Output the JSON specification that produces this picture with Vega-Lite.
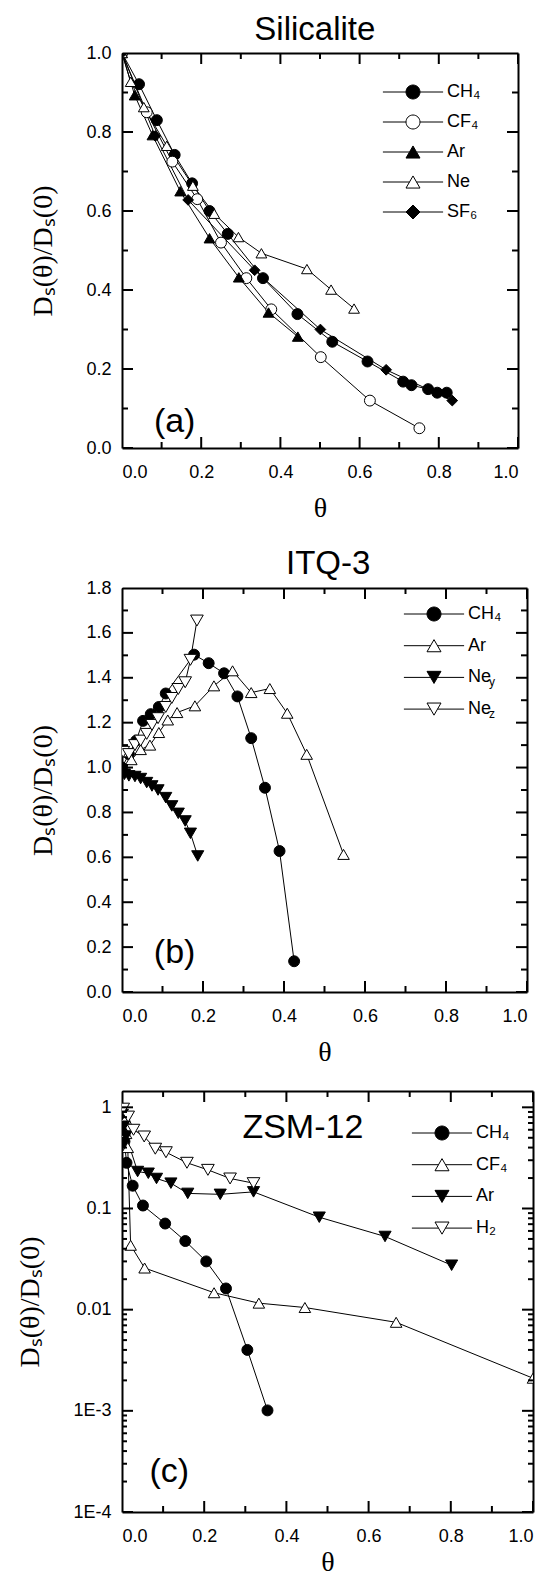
{
  "$schema": "https://vega.github.io/schema/vega-lite/v6.json",
  "background": "white",
  "padding": {"left": 16, "top": 14, "right": 5, "bottom": 0},
  "spacing": 25,
  "config": {
    "view": {"stroke": null},
    "axis": {"domainColor": "black", "domainWidth": 2, "ticks": false, "grid": false, "labelColor": "black", "labelFont": "Liberation Sans", "labelFontSize": 18, "titleColor": "black", "titleFont": "Liberation Serif", "titleFontSize": 28, "titleFontWeight": "normal"},
    "legend": {"labelFont": "Liberation Sans", "labelFontSize": 18, "labelColor": "black", "padding": 0},
    "text": {"font": "Liberation Sans", "color": "black"},
    "tick": {"color": "black", "thickness": 2, "opacity": 1}
  },
  "datasets": {
    "tx": [
      {"p": 0.0, "m": 1}, {"p": 0.1, "m": 0}, {"p": 0.2, "m": 1}, {"p": 0.3, "m": 0}, {"p": 0.4, "m": 1}, {"p": 0.5, "m": 0}, {"p": 0.6, "m": 1}, {"p": 0.7, "m": 0}, {"p": 0.8, "m": 1}, {"p": 0.9, "m": 0}, {"p": 1.0, "m": 1}
    ],
    "tyb": [
      {"p": 0.0, "m": 1}, {"p": 0.1, "m": 0}, {"p": 0.2, "m": 1}, {"p": 0.3, "m": 0}, {"p": 0.4, "m": 1}, {"p": 0.5, "m": 0}, {"p": 0.6, "m": 1}, {"p": 0.7, "m": 0}, {"p": 0.8, "m": 1}, {"p": 0.9, "m": 0}, {"p": 1.0, "m": 1}, {"p": 1.1, "m": 0}, {"p": 1.2, "m": 1}, {"p": 1.3, "m": 0}, {"p": 1.4, "m": 1}, {"p": 1.5, "m": 0}, {"p": 1.6, "m": 1}, {"p": 1.7, "m": 0}, {"p": 1.8, "m": 1}
    ],
    "tyc": [
      {"p": 0.0001, "m": 1}, {"p": 0.0002, "m": 0}, {"p": 0.0003, "m": 0}, {"p": 0.0004, "m": 0}, {"p": 0.0005, "m": 0}, {"p": 0.0006, "m": 0}, {"p": 0.0007, "m": 0}, {"p": 0.0008, "m": 0}, {"p": 0.0009, "m": 0},
      {"p": 0.001, "m": 1}, {"p": 0.002, "m": 0}, {"p": 0.003, "m": 0}, {"p": 0.004, "m": 0}, {"p": 0.005, "m": 0}, {"p": 0.006, "m": 0}, {"p": 0.007, "m": 0}, {"p": 0.008, "m": 0}, {"p": 0.009, "m": 0},
      {"p": 0.01, "m": 1}, {"p": 0.02, "m": 0}, {"p": 0.03, "m": 0}, {"p": 0.04, "m": 0}, {"p": 0.05, "m": 0}, {"p": 0.06, "m": 0}, {"p": 0.07, "m": 0}, {"p": 0.08, "m": 0}, {"p": 0.09, "m": 0},
      {"p": 0.1, "m": 1}, {"p": 0.2, "m": 0}, {"p": 0.3, "m": 0}, {"p": 0.4, "m": 0}, {"p": 0.5, "m": 0}, {"p": 0.6, "m": 0}, {"p": 0.7, "m": 0}, {"p": 0.8, "m": 0}, {"p": 0.9, "m": 0},
      {"p": 1.0, "m": 1}
    ],
    "a": [
      {"s": "CH4", "t": 0.0, "v": 1.0}, {"s": "CH4", "t": 0.043, "v": 0.921}, {"s": "CH4", "t": 0.088, "v": 0.83}, {"s": "CH4", "t": 0.133, "v": 0.742}, {"s": "CH4", "t": 0.177, "v": 0.67}, {"s": "CH4", "t": 0.221, "v": 0.6}, {"s": "CH4", "t": 0.267, "v": 0.542}, {"s": "CH4", "t": 0.356, "v": 0.43}, {"s": "CH4", "t": 0.443, "v": 0.339}, {"s": "CH4", "t": 0.531, "v": 0.269}, {"s": "CH4", "t": 0.62, "v": 0.219}, {"s": "CH4", "t": 0.71, "v": 0.168}, {"s": "CH4", "t": 0.731, "v": 0.159}, {"s": "CH4", "t": 0.773, "v": 0.149}, {"s": "CH4", "t": 0.796, "v": 0.14}, {"s": "CH4", "t": 0.82, "v": 0.14},
      {"s": "CF4", "t": 0.0, "v": 1.0}, {"s": "CF4", "t": 0.0625, "v": 0.85}, {"s": "CF4", "t": 0.127, "v": 0.725}, {"s": "CF4", "t": 0.19, "v": 0.63}, {"s": "CF4", "t": 0.25, "v": 0.52}, {"s": "CF4", "t": 0.314, "v": 0.43}, {"s": "CF4", "t": 0.377, "v": 0.351}, {"s": "CF4", "t": 0.502, "v": 0.23}, {"s": "CF4", "t": 0.626, "v": 0.12}, {"s": "CF4", "t": 0.751, "v": 0.05},
      {"s": "Ar", "t": 0.0, "v": 1.0}, {"s": "Ar", "t": 0.032, "v": 0.893}, {"s": "Ar", "t": 0.077, "v": 0.792}, {"s": "Ar", "t": 0.147, "v": 0.65}, {"s": "Ar", "t": 0.221, "v": 0.531}, {"s": "Ar", "t": 0.295, "v": 0.432}, {"s": "Ar", "t": 0.37, "v": 0.343}, {"s": "Ar", "t": 0.444, "v": 0.282},
      {"s": "Ne", "t": 0.0, "v": 1.0}, {"s": "Ne", "t": 0.022, "v": 0.927}, {"s": "Ne", "t": 0.055, "v": 0.863}, {"s": "Ne", "t": 0.113, "v": 0.765}, {"s": "Ne", "t": 0.179, "v": 0.664}, {"s": "Ne", "t": 0.233, "v": 0.593}, {"s": "Ne", "t": 0.294, "v": 0.534}, {"s": "Ne", "t": 0.352, "v": 0.493}, {"s": "Ne", "t": 0.467, "v": 0.453}, {"s": "Ne", "t": 0.528, "v": 0.401}, {"s": "Ne", "t": 0.586, "v": 0.353},
      {"s": "SF6", "t": 0.0, "v": 1.0}, {"s": "SF6", "t": 0.084, "v": 0.79}, {"s": "SF6", "t": 0.167, "v": 0.628}, {"s": "SF6", "t": 0.335, "v": 0.45}, {"s": "SF6", "t": 0.501, "v": 0.3}, {"s": "SF6", "t": 0.667, "v": 0.198}, {"s": "SF6", "t": 0.834, "v": 0.12}
    ],
    "b": [
      {"s": "CH4", "t": 0.0, "v": 1.0}, {"s": "CH4", "t": 0.017, "v": 1.06}, {"s": "CH4", "t": 0.035, "v": 1.12}, {"s": "CH4", "t": 0.052, "v": 1.208}, {"s": "CH4", "t": 0.071, "v": 1.238}, {"s": "CH4", "t": 0.091, "v": 1.27}, {"s": "CH4", "t": 0.108, "v": 1.33}, {"s": "CH4", "t": 0.178, "v": 1.503}, {"s": "CH4", "t": 0.214, "v": 1.465}, {"s": "CH4", "t": 0.252, "v": 1.42}, {"s": "CH4", "t": 0.285, "v": 1.317}, {"s": "CH4", "t": 0.319, "v": 1.131}, {"s": "CH4", "t": 0.353, "v": 0.91}, {"s": "CH4", "t": 0.389, "v": 0.628}, {"s": "CH4", "t": 0.425, "v": 0.137},
      {"s": "Ar", "t": 0.003, "v": 1.07}, {"s": "Ar", "t": 0.023, "v": 1.035}, {"s": "Ar", "t": 0.046, "v": 1.08}, {"s": "Ar", "t": 0.069, "v": 1.1}, {"s": "Ar", "t": 0.091, "v": 1.156}, {"s": "Ar", "t": 0.113, "v": 1.212}, {"s": "Ar", "t": 0.136, "v": 1.245}, {"s": "Ar", "t": 0.18, "v": 1.275}, {"s": "Ar", "t": 0.227, "v": 1.364}, {"s": "Ar", "t": 0.273, "v": 1.431}, {"s": "Ar", "t": 0.319, "v": 1.334}, {"s": "Ar", "t": 0.365, "v": 1.352}, {"s": "Ar", "t": 0.408, "v": 1.242}, {"s": "Ar", "t": 0.456, "v": 1.059}, {"s": "Ar", "t": 0.547, "v": 0.613},
      {"s": "Ney", "t": 0.0, "v": 0.99}, {"s": "Ney", "t": 0.006, "v": 0.97}, {"s": "Ney", "t": 0.017, "v": 0.963}, {"s": "Ney", "t": 0.032, "v": 0.96}, {"s": "Ney", "t": 0.046, "v": 0.951}, {"s": "Ney", "t": 0.061, "v": 0.933}, {"s": "Ney", "t": 0.074, "v": 0.918}, {"s": "Ney", "t": 0.089, "v": 0.9}, {"s": "Ney", "t": 0.108, "v": 0.866}, {"s": "Ney", "t": 0.123, "v": 0.829}, {"s": "Ney", "t": 0.139, "v": 0.796}, {"s": "Ney", "t": 0.156, "v": 0.762}, {"s": "Ney", "t": 0.169, "v": 0.707}, {"s": "Ney", "t": 0.187, "v": 0.606},
      {"s": "Nez", "t": 0.003, "v": 1.07}, {"s": "Nez", "t": 0.017, "v": 1.06}, {"s": "Nez", "t": 0.032, "v": 1.1}, {"s": "Nez", "t": 0.046, "v": 1.12}, {"s": "Nez", "t": 0.061, "v": 1.15}, {"s": "Nez", "t": 0.074, "v": 1.19}, {"s": "Nez", "t": 0.089, "v": 1.22}, {"s": "Nez", "t": 0.108, "v": 1.27}, {"s": "Nez", "t": 0.123, "v": 1.31}, {"s": "Nez", "t": 0.139, "v": 1.35}, {"s": "Nez", "t": 0.156, "v": 1.38}, {"s": "Nez", "t": 0.169, "v": 1.48}, {"s": "Nez", "t": 0.185, "v": 1.655}
    ],
    "c": [
      {"s": "CH4", "t": 0.002, "v": 0.72}, {"s": "CH4", "t": 0.006, "v": 0.46}, {"s": "CH4", "t": 0.011, "v": 0.283}, {"s": "CH4", "t": 0.026, "v": 0.168}, {"s": "CH4", "t": 0.051, "v": 0.107}, {"s": "CH4", "t": 0.105, "v": 0.071}, {"s": "CH4", "t": 0.154, "v": 0.0477}, {"s": "CH4", "t": 0.205, "v": 0.03}, {"s": "CH4", "t": 0.253, "v": 0.0162}, {"s": "CH4", "t": 0.305, "v": 0.004}, {"s": "CH4", "t": 0.354, "v": 0.00101},
      {"s": "CF4", "t": 0.001, "v": 1.0}, {"s": "CF4", "t": 0.005, "v": 0.75}, {"s": "CF4", "t": 0.01, "v": 0.55}, {"s": "CF4", "t": 0.014, "v": 0.4}, {"s": "CF4", "t": 0.021, "v": 0.0433}, {"s": "CF4", "t": 0.055, "v": 0.0258}, {"s": "CF4", "t": 0.224, "v": 0.0147}, {"s": "CF4", "t": 0.333, "v": 0.0116}, {"s": "CF4", "t": 0.445, "v": 0.0105}, {"s": "CF4", "t": 0.667, "v": 0.0075}, {"s": "CF4", "t": 1.0, "v": 0.0021},
      {"s": "Ar", "t": 0.001, "v": 0.85}, {"s": "Ar", "t": 0.004, "v": 0.65}, {"s": "Ar", "t": 0.01, "v": 0.52}, {"s": "Ar", "t": 0.038, "v": 0.232}, {"s": "Ar", "t": 0.064, "v": 0.223}, {"s": "Ar", "t": 0.084, "v": 0.198}, {"s": "Ar", "t": 0.119, "v": 0.178}, {"s": "Ar", "t": 0.16, "v": 0.141}, {"s": "Ar", "t": 0.239, "v": 0.138}, {"s": "Ar", "t": 0.32, "v": 0.146}, {"s": "Ar", "t": 0.48, "v": 0.082}, {"s": "Ar", "t": 0.64, "v": 0.0529}, {"s": "Ar", "t": 0.802, "v": 0.0275},
      {"s": "H2", "t": 0.003, "v": 0.97}, {"s": "H2", "t": 0.015, "v": 0.81}, {"s": "H2", "t": 0.028, "v": 0.6}, {"s": "H2", "t": 0.054, "v": 0.515}, {"s": "H2", "t": 0.081, "v": 0.39}, {"s": "H2", "t": 0.107, "v": 0.36}, {"s": "H2", "t": 0.158, "v": 0.283}, {"s": "H2", "t": 0.209, "v": 0.241}, {"s": "H2", "t": 0.263, "v": 0.198}, {"s": "H2", "t": 0.32, "v": 0.178}
    ]
  },
  "vconcat": [
    {
      "width": 396, "height": 395,
      "data": {"name": "a"},
      "resolve": {"scale": {"shape": "independent", "fill": "independent", "size": "independent"}, "axis": {"x": "independent", "y": "independent"}},
      "layer": [
        {
          "mark": {"type": "line", "color": "black", "strokeWidth": 1, "clip": true},
          "encoding": {
            "x": {"field": "t", "type": "quantitative", "scale": {"domain": [0, 1], "nice": false}, "axis": {"orient": "bottom", "values": [0, 0.2, 0.4, 0.6, 0.8, 1.0], "format": ".1f", "title": "θ", "labelPadding": 15, "titlePadding": 13}},
            "y": {"field": "v", "type": "quantitative", "scale": {"domain": [0, 1], "nice": false}, "axis": {"orient": "left", "values": [0, 0.2, 0.4, 0.6, 0.8, 1.0], "format": ".1f", "title": "Dₛ(θ)/Dₛ(0)", "labelPadding": 11, "titlePadding": 28}},
            "detail": {"field": "s"}
          }
        },
        {
          "mark": {"type": "point", "filled": true, "stroke": "black", "strokeWidth": 1, "opacity": 1, "clip": true},
          "encoding": {
            "x": {"field": "t", "type": "quantitative", "axis": {"orient": "top", "values": [0, 1], "labels": false, "title": null}},
            "y": {"field": "v", "type": "quantitative", "axis": {"orient": "right", "values": [0, 1], "labels": false, "title": null}},
            "shape": {"field": "s", "type": "nominal", "scale": {"domain": ["CH4", "CF4", "Ar", "Ne", "SF6"], "range": ["circle", "circle", "triangle-up", "triangle-up", "diamond"]}, "legend": null},
            "fill": {"field": "s", "type": "nominal", "scale": {"domain": ["CH4", "CF4", "Ar", "Ne", "SF6"], "range": ["black", "white", "black", "white", "black"]}, "legend": null},
            "size": {"field": "s", "type": "nominal", "scale": {"domain": ["CH4", "CF4", "Ar", "Ne", "SF6"], "range": [120, 115, 160, 160, 150]}, "legend": null}
          }
        },
        {
          "transform": [{"filter": "false"}],
          "mark": {"type": "point", "filled": true, "stroke": "black", "strokeWidth": 1},
          "encoding": {
            "x": {"field": "t", "type": "quantitative", "axis": null},
            "y": {"field": "v", "type": "quantitative", "axis": null},
            "shape": {"field": "s", "type": "nominal", "scale": {"domain": ["CH4", "CF4", "Ar", "Ne", "SF6"], "range": ["M-4.3,0H-1M1,0H4.3M1,0A1,1,0,1,1,-1,0A1,1,0,1,1,1,0Z", "M-4.3,0H-1M1,0H4.3M1,0A1,1,0,1,1,-1,0A1,1,0,1,1,1,0Z", "M-4.3,0H-0.5M0.5,0H4.3M0,-0.866L-1,0.866L1,0.866Z", "M-4.3,0H-0.5M0.5,0H4.3M0,-0.866L-1,0.866L1,0.866Z", "M-4.3,0H-1M1,0H4.3M-1,0L0,-1L1,0L0,1Z"]}, "legend": {"orient": "none", "legendX": 282, "legendY": 30, "title": null, "symbolSize": 196, "symbolStrokeColor": "black", "symbolStrokeWidth": 1, "symbolOpacity": 1, "labelOffset": 25, "rowPadding": 12, "labelExpr": "datum.value == 'CH4' ? 'CH₄' : datum.value == 'CF4' ? 'CF₄' : datum.value == 'SF6' ? 'SF₆' : datum.value", "encode": {"symbols": {"update": {"stroke": {"value": "black"}, "strokeWidth": {"value": 1}}}}}},
            "fill": {"field": "s", "type": "nominal", "scale": {"domain": ["CH4", "CF4", "Ar", "Ne", "SF6"], "range": ["black", "white", "black", "white", "black"]}, "legend": {"orient": "none", "legendX": 282, "legendY": 30, "title": null, "symbolSize": 196, "symbolStrokeColor": "black", "symbolStrokeWidth": 1, "symbolOpacity": 1, "labelOffset": 25, "rowPadding": 12, "labelExpr": "datum.value == 'CH4' ? 'CH₄' : datum.value == 'CF4' ? 'CF₄' : datum.value == 'SF6' ? 'SF₆' : datum.value", "encode": {"symbols": {"update": {"stroke": {"value": "black"}, "strokeWidth": {"value": 1}}}}}}
          }
        },
        {
          "data": {"name": "tx"},
          "mark": {"type": "tick", "orient": "vertical", "clip": true},
          "encoding": {
            "x": {"field": "p", "type": "quantitative", "axis": null},
            "y": {"datum": 0, "type": "quantitative", "axis": null},
            "size": {"field": "m", "type": "quantitative", "scale": {"domain": [0, 1], "range": [12, 22]}, "legend": null}
          }
        },
        {
          "data": {"name": "tx"},
          "mark": {"type": "tick", "orient": "vertical", "clip": true},
          "encoding": {
            "x": {"field": "p", "type": "quantitative", "axis": null},
            "y": {"datum": 1, "type": "quantitative", "axis": null},
            "size": {"field": "m", "type": "quantitative", "scale": {"domain": [0, 1], "range": [12, 22]}, "legend": null}
          }
        },
        {
          "data": {"name": "tx"},
          "mark": {"type": "tick", "orient": "horizontal", "clip": true},
          "encoding": {
            "y": {"field": "p", "type": "quantitative", "axis": null},
            "x": {"datum": 0, "type": "quantitative", "axis": null},
            "size": {"field": "m", "type": "quantitative", "scale": {"domain": [0, 1], "range": [12, 22]}, "legend": null}
          }
        },
        {
          "data": {"name": "tx"},
          "mark": {"type": "tick", "orient": "horizontal", "clip": true},
          "encoding": {
            "y": {"field": "p", "type": "quantitative", "axis": null},
            "x": {"datum": 1, "type": "quantitative", "axis": null},
            "size": {"field": "m", "type": "quantitative", "scale": {"domain": [0, 1], "range": [12, 22]}, "legend": null}
          }
        },
        {
          "data": {"values": [{"label": "(a)"}]},
          "mark": {"type": "text", "fontSize": 34, "align": "center", "baseline": "middle"},
          "encoding": {
            "x": {"datum": 0.133, "type": "quantitative", "axis": null},
            "y": {"datum": 0.066, "type": "quantitative", "axis": null},
            "text": {"field": "label"}
          }
        },
        {
          "data": {"values": [{"label": "Silicalite"}]},
          "mark": {"type": "text", "fontSize": 33, "align": "center", "baseline": "middle"},
          "encoding": {
            "x": {"datum": 0.487, "type": "quantitative", "axis": null},
            "y": {"datum": 1.057, "type": "quantitative", "axis": null},
            "text": {"field": "label"}
          }
        }
      ]
    },
    {
      "width": 405, "height": 404,
      "data": {"name": "b"},
      "resolve": {"scale": {"shape": "independent", "fill": "independent", "size": "independent"}, "axis": {"x": "independent", "y": "independent"}},
      "layer": [
        {
          "mark": {"type": "line", "color": "black", "strokeWidth": 1, "clip": true},
          "encoding": {
            "x": {"field": "t", "type": "quantitative", "scale": {"domain": [0, 1], "nice": false}, "axis": {"orient": "bottom", "values": [0, 0.2, 0.4, 0.6, 0.8, 1.0], "format": ".1f", "title": "θ", "labelPadding": 15, "titlePadding": 13}},
            "y": {"field": "v", "type": "quantitative", "scale": {"domain": [0, 1.8], "nice": false}, "axis": {"orient": "left", "values": [0, 0.2, 0.4, 0.6, 0.8, 1.0, 1.2, 1.4, 1.6, 1.8], "format": ".1f", "title": "Dₛ(θ)/Dₛ(0)", "labelPadding": 11, "titlePadding": 28}},
            "detail": {"field": "s"}
          }
        },
        {
          "mark": {"type": "point", "filled": true, "stroke": "black", "strokeWidth": 1, "opacity": 1, "clip": true},
          "encoding": {
            "x": {"field": "t", "type": "quantitative", "axis": {"orient": "top", "values": [0, 1], "labels": false, "title": null}},
            "y": {"field": "v", "type": "quantitative", "axis": {"orient": "right", "values": [0, 1.8], "labels": false, "title": null}},
            "shape": {"field": "s", "type": "nominal", "scale": {"domain": ["CH4", "Ar", "Ney", "Nez"], "range": ["circle", "triangle-up", "triangle-down", "triangle-down"]}, "legend": null},
            "fill": {"field": "s", "type": "nominal", "scale": {"domain": ["CH4", "Ar", "Ney", "Nez"], "range": ["black", "white", "black", "white"]}, "legend": null},
            "size": {"field": "s", "type": "nominal", "scale": {"domain": ["CH4", "Ar", "Ney", "Nez"], "range": [120, 160, 160, 160]}, "legend": null}
          }
        },
        {
          "transform": [{"filter": "false"}],
          "mark": {"type": "point", "filled": true, "stroke": "black", "strokeWidth": 1},
          "encoding": {
            "x": {"field": "t", "type": "quantitative", "axis": null},
            "y": {"field": "v", "type": "quantitative", "axis": null},
            "shape": {"field": "s", "type": "nominal", "scale": {"domain": ["CH4", "Ar", "Ney", "Nez"], "range": ["M-4.3,0H-1M1,0H4.3M1,0A1,1,0,1,1,-1,0A1,1,0,1,1,1,0Z", "M-4.3,0H-0.5M0.5,0H4.3M0,-0.866L-1,0.866L1,0.866Z", "M-4.3,0H-0.5M0.5,0H4.3M0,0.866L-1,-0.866L1,-0.866Z", "M-4.3,0H-0.5M0.5,0H4.3M0,0.866L-1,-0.866L1,-0.866Z"]}, "legend": {"orient": "none", "legendX": 303, "legendY": 17, "title": null, "symbolSize": 196, "symbolStrokeColor": "black", "symbolStrokeWidth": 1, "symbolOpacity": 1, "labelOffset": 25, "rowPadding": 13.7, "labelExpr": "datum.value == 'CH4' ? 'CH₄' : datum.value == 'Ar' ? 'Ar' : 'Ne'", "encode": {"symbols": {"update": {"stroke": {"value": "black"}, "strokeWidth": {"value": 1}}}}}},
            "fill": {"field": "s", "type": "nominal", "scale": {"domain": ["CH4", "Ar", "Ney", "Nez"], "range": ["black", "white", "black", "white"]}, "legend": {"orient": "none", "legendX": 303, "legendY": 17, "title": null, "symbolSize": 196, "symbolStrokeColor": "black", "symbolStrokeWidth": 1, "symbolOpacity": 1, "labelOffset": 25, "rowPadding": 13.7, "labelExpr": "datum.value == 'CH4' ? 'CH₄' : datum.value == 'Ar' ? 'Ar' : 'Ne'", "encode": {"symbols": {"update": {"stroke": {"value": "black"}, "strokeWidth": {"value": 1}}}}}}
          }
        },
        {
          "mark": {"type": "point", "opacity": 0},
          "encoding": {
            "x": {"field": "t", "type": "quantitative", "axis": null},
            "y": {"field": "v", "type": "quantitative", "axis": null},
            "size": {"field": "s", "type": "ordinal", "sort": ["CH4", "Ar", "Ney", "Nez"], "scale": {"range": [196, 196, 196, 196]}, "legend": {"orient": "none", "legendX": 303, "legendY": 23, "title": null, "symbolOpacity": 0, "labelFontSize": 12, "labelOffset": 48, "rowPadding": 16.7, "labelExpr": "datum.value == 'Ney' ? 'y' : datum.value == 'Nez' ? 'z' : ''"}}
          }
        },
        {
          "data": {"name": "tx"},
          "mark": {"type": "tick", "orient": "vertical", "clip": true},
          "encoding": {
            "x": {"field": "p", "type": "quantitative", "axis": null},
            "y": {"datum": 0, "type": "quantitative", "axis": null},
            "size": {"field": "m", "type": "quantitative", "scale": {"domain": [0, 1], "range": [12, 22]}, "legend": null}
          }
        },
        {
          "data": {"name": "tx"},
          "mark": {"type": "tick", "orient": "vertical", "clip": true},
          "encoding": {
            "x": {"field": "p", "type": "quantitative", "axis": null},
            "y": {"datum": 1.8, "type": "quantitative", "axis": null},
            "size": {"field": "m", "type": "quantitative", "scale": {"domain": [0, 1], "range": [12, 22]}, "legend": null}
          }
        },
        {
          "data": {"name": "tyb"},
          "mark": {"type": "tick", "orient": "horizontal", "clip": true},
          "encoding": {
            "y": {"field": "p", "type": "quantitative", "axis": null},
            "x": {"datum": 0, "type": "quantitative", "axis": null},
            "size": {"field": "m", "type": "quantitative", "scale": {"domain": [0, 1], "range": [12, 22]}, "legend": null}
          }
        },
        {
          "data": {"name": "tyb"},
          "mark": {"type": "tick", "orient": "horizontal", "clip": true},
          "encoding": {
            "y": {"field": "p", "type": "quantitative", "axis": null},
            "x": {"datum": 1, "type": "quantitative", "axis": null},
            "size": {"field": "m", "type": "quantitative", "scale": {"domain": [0, 1], "range": [12, 22]}, "legend": null}
          }
        },
        {
          "data": {"values": [{"label": "(b)"}]},
          "mark": {"type": "text", "fontSize": 34, "align": "center", "baseline": "middle"},
          "encoding": {
            "x": {"datum": 0.13, "type": "quantitative", "axis": null},
            "y": {"datum": 0.174, "type": "quantitative", "axis": null},
            "text": {"field": "label"}
          }
        },
        {
          "data": {"values": [{"label": "ITQ-3"}]},
          "mark": {"type": "text", "fontSize": 33, "align": "center", "baseline": "middle"},
          "encoding": {
            "x": {"datum": 0.509, "type": "quantitative", "axis": null},
            "y": {"datum": 1.907, "type": "quantitative", "axis": null},
            "text": {"field": "label"}
          }
        }
      ]
    },
    {
      "width": 411, "height": 421,
      "data": {"name": "c"},
      "resolve": {"scale": {"shape": "independent", "fill": "independent", "size": "independent"}, "axis": {"x": "independent", "y": "independent"}},
      "layer": [
        {
          "mark": {"type": "line", "color": "black", "strokeWidth": 1, "clip": true},
          "encoding": {
            "x": {"field": "t", "type": "quantitative", "scale": {"domain": [0, 1], "nice": false}, "axis": {"orient": "bottom", "values": [0, 0.2, 0.4, 0.6, 0.8, 1.0], "format": ".1f", "title": "θ", "labelPadding": 15, "titlePadding": 3}},
            "y": {"field": "v", "type": "quantitative", "scale": {"type": "log", "domain": [0.0001, 1.45], "nice": false}, "axis": {"orient": "left", "values": [0.0001, 0.001, 0.01, 0.1, 1], "labelExpr": "datum.value == 1 ? '1' : datum.value == 0.1 ? '0.1' : datum.value == 0.01 ? '0.01' : datum.value == 0.001 ? '1E-3' : '1E-4'", "title": "Dₛ(θ)/Dₛ(0)", "labelPadding": 11, "titlePadding": 28}},
            "detail": {"field": "s"}
          }
        },
        {
          "mark": {"type": "point", "filled": true, "stroke": "black", "strokeWidth": 1, "opacity": 1, "clip": true},
          "encoding": {
            "x": {"field": "t", "type": "quantitative", "axis": {"orient": "top", "values": [0, 1], "labels": false, "title": null}},
            "y": {"field": "v", "type": "quantitative", "axis": {"orient": "right", "values": [0.0001, 1], "labels": false, "title": null}},
            "shape": {"field": "s", "type": "nominal", "scale": {"domain": ["CH4", "CF4", "Ar", "H2"], "range": ["circle", "triangle-up", "triangle-down", "triangle-down"]}, "legend": null},
            "fill": {"field": "s", "type": "nominal", "scale": {"domain": ["CH4", "CF4", "Ar", "H2"], "range": ["black", "white", "black", "white"]}, "legend": null},
            "size": {"field": "s", "type": "nominal", "scale": {"domain": ["CH4", "CF4", "Ar", "H2"], "range": [120, 160, 160, 160]}, "legend": null}
          }
        },
        {
          "transform": [{"filter": "false"}],
          "mark": {"type": "point", "filled": true, "stroke": "black", "strokeWidth": 1},
          "encoding": {
            "x": {"field": "t", "type": "quantitative", "axis": null},
            "y": {"field": "v", "type": "quantitative", "axis": null},
            "shape": {"field": "s", "type": "nominal", "scale": {"domain": ["CH4", "CF4", "Ar", "H2"], "range": ["M-4.3,0H-1M1,0H4.3M1,0A1,1,0,1,1,-1,0A1,1,0,1,1,1,0Z", "M-4.3,0H-0.5M0.5,0H4.3M0,-0.866L-1,0.866L1,0.866Z", "M-4.3,0H-0.5M0.5,0H4.3M0,0.866L-1,-0.866L1,-0.866Z", "M-4.3,0H-0.5M0.5,0H4.3M0,0.866L-1,-0.866L1,-0.866Z"]}, "legend": {"orient": "none", "legendX": 311, "legendY": 33, "title": null, "symbolSize": 196, "symbolStrokeColor": "black", "symbolStrokeWidth": 1, "symbolOpacity": 1, "labelOffset": 25, "rowPadding": 13.7, "labelExpr": "datum.value == 'CH4' ? 'CH₄' : datum.value == 'CF4' ? 'CF₄' : datum.value == 'H2' ? 'H₂' : datum.value", "encode": {"symbols": {"update": {"stroke": {"value": "black"}, "strokeWidth": {"value": 1}}}}}},
            "fill": {"field": "s", "type": "nominal", "scale": {"domain": ["CH4", "CF4", "Ar", "H2"], "range": ["black", "white", "black", "white"]}, "legend": {"orient": "none", "legendX": 311, "legendY": 33, "title": null, "symbolSize": 196, "symbolStrokeColor": "black", "symbolStrokeWidth": 1, "symbolOpacity": 1, "labelOffset": 25, "rowPadding": 13.7, "labelExpr": "datum.value == 'CH4' ? 'CH₄' : datum.value == 'CF4' ? 'CF₄' : datum.value == 'H2' ? 'H₂' : datum.value", "encode": {"symbols": {"update": {"stroke": {"value": "black"}, "strokeWidth": {"value": 1}}}}}}
          }
        },
        {
          "data": {"name": "tx"},
          "mark": {"type": "tick", "orient": "vertical", "clip": true},
          "encoding": {
            "x": {"field": "p", "type": "quantitative", "axis": null},
            "y": {"datum": 0.0001, "type": "quantitative", "axis": null},
            "size": {"field": "m", "type": "quantitative", "scale": {"domain": [0, 1], "range": [12, 22]}, "legend": null}
          }
        },
        {
          "data": {"name": "tx"},
          "mark": {"type": "tick", "orient": "vertical", "clip": true},
          "encoding": {
            "x": {"field": "p", "type": "quantitative", "axis": null},
            "y": {"datum": 1.45, "type": "quantitative", "axis": null},
            "size": {"field": "m", "type": "quantitative", "scale": {"domain": [0, 1], "range": [12, 22]}, "legend": null}
          }
        },
        {
          "data": {"name": "tyc"},
          "mark": {"type": "tick", "orient": "horizontal", "clip": true},
          "encoding": {
            "y": {"field": "p", "type": "quantitative", "axis": null},
            "x": {"datum": 0, "type": "quantitative", "axis": null},
            "size": {"field": "m", "type": "quantitative", "scale": {"domain": [0, 1], "range": [10, 22]}, "legend": null}
          }
        },
        {
          "data": {"name": "tyc"},
          "mark": {"type": "tick", "orient": "horizontal", "clip": true},
          "encoding": {
            "y": {"field": "p", "type": "quantitative", "axis": null},
            "x": {"datum": 1, "type": "quantitative", "axis": null},
            "size": {"field": "m", "type": "quantitative", "scale": {"domain": [0, 1], "range": [10, 22]}, "legend": null}
          }
        },
        {
          "data": {"values": [{"label": "(c)"}]},
          "mark": {"type": "text", "fontSize": 34, "align": "center", "baseline": "middle"},
          "encoding": {
            "x": {"datum": 0.115, "type": "quantitative", "axis": null},
            "y": {"datum": 0.00025, "type": "quantitative", "axis": null},
            "text": {"field": "label"}
          }
        },
        {
          "data": {"values": [{"label": "ZSM-12"}]},
          "mark": {"type": "text", "fontSize": 34, "align": "center", "baseline": "middle"},
          "encoding": {
            "x": {"datum": 0.44, "type": "quantitative", "axis": null},
            "y": {"datum": 0.62, "type": "quantitative", "axis": null},
            "text": {"field": "label"}
          }
        }
      ]
    }
  ]
}
